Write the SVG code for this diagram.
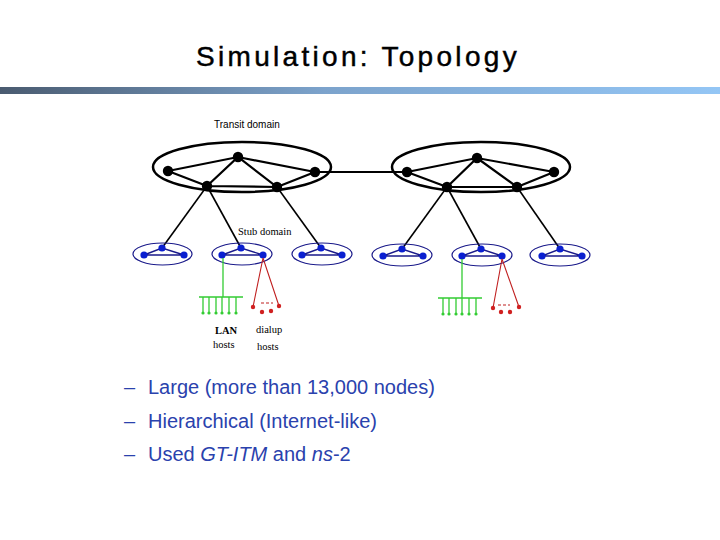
<svg xmlns="http://www.w3.org/2000/svg" width="720" height="540" viewBox="0 0 720 540">
<defs>
<linearGradient id="bar" x1="0" y1="0" x2="1" y2="0">
<stop offset="0" stop-color="#4a5b70"/>
<stop offset="0.45" stop-color="#7ca3cc"/>
<stop offset="1" stop-color="#94c6f5"/>
</linearGradient>
<style>
.title{font-family:"Liberation Sans",Arial,sans-serif;font-size:28px;letter-spacing:3.3px;fill:#000;stroke:#000;stroke-width:0.45}
.bul{font-family:"Liberation Sans",Arial,sans-serif;font-size:20px;fill:#2a42ad}
.lbl{font-family:"Liberation Serif","Times New Roman",serif;font-size:10.5px;fill:#000}
.tlbl{font-family:"Liberation Sans",Arial,sans-serif;font-size:10px;fill:#000}
.tell{fill:none;stroke:#000;stroke-width:2.5}
.tedge{stroke:#000;stroke-width:2.2;fill:none}
.tn{fill:#000}
.sell{fill:none;stroke:#1a1a8a;stroke-width:1.2}
.sedge{stroke:#1a1a8a;stroke-width:1.4;fill:none}
.sn{fill:#0a1fd0}
.down{stroke:#000;stroke-width:1.6}
.lan{stroke:#33cc33;stroke-width:1.3;fill:none}
.landot{fill:#33cc33}
.dial{stroke:#c02020;stroke-width:1.1;fill:none}
.dialdot{fill:#d02020}
</style>
</defs>
<rect width="720" height="540" fill="#fff"/>
<text class="title" x="358" y="66" text-anchor="middle">Simulation: Topology</text>
<rect x="0" y="87" width="720" height="7" fill="url(#bar)"/>

<g id="connectors">
<line class="tedge" x1="315" y1="172" x2="407" y2="172" stroke-width="3"/>
<line class="down" x1="207" y1="186" x2="162" y2="248"/>
<line class="down" x1="207" y1="186" x2="241" y2="248"/>
<line class="down" x1="277" y1="187" x2="321" y2="248"/>
<line class="down" x1="447" y1="187" x2="402" y2="249"/>
<line class="down" x1="447" y1="187" x2="481" y2="249"/>
<line class="down" x1="517" y1="187" x2="560" y2="249"/>
</g>

<g id="transit-left">
<ellipse class="tell" cx="242" cy="167" rx="89" ry="25"/>
<path class="tedge" d="M168 171L238 157L315 172M168 171L207 186L238 157L277 187L315 172M207 186L277 187"/>
<circle class="tn" cx="168" cy="171" r="5.2"/>
<circle class="tn" cx="238" cy="157" r="5.2"/>
<circle class="tn" cx="315" cy="172" r="5.2"/>
<circle class="tn" cx="207" cy="186" r="5.2"/>
<circle class="tn" cx="277" cy="187" r="5.2"/>
</g>
<g id="transit-right">
<ellipse class="tell" cx="481" cy="167" rx="89" ry="25"/>
<path class="tedge" d="M407 172L477 158L554 172M407 172L447 187L477 158L517 187L554 172M447 187L517 187"/>
<circle class="tn" cx="407" cy="172" r="5.2"/>
<circle class="tn" cx="477" cy="158" r="5.2"/>
<circle class="tn" cx="554" cy="172" r="5.2"/>
<circle class="tn" cx="447" cy="187" r="5.2"/>
<circle class="tn" cx="517" cy="187" r="5.2"/>
</g>
<text class="tlbl" x="214" y="128">Transit domain</text>
<text class="lbl" x="238" y="235">Stub domain</text>

<g id="stub1">
<ellipse class="sell" cx="162.5" cy="254" rx="29.5" ry="11"/>
<path class="sedge" d="M144 255L162 248L184 255ZM144 255H184"/>
<circle class="sn" cx="162" cy="248" r="3.6"/><circle class="sn" cx="144" cy="255" r="3.6"/><circle class="sn" cx="184" cy="255" r="3.6"/>
</g>
<g id="stub2">
<ellipse class="sell" cx="242" cy="254" rx="30" ry="11"/>
<path class="sedge" d="M222 255L241 248L263 255M222 255H263"/>
<circle class="sn" cx="241" cy="248" r="3.6"/><circle class="sn" cx="222" cy="255" r="3.6"/><circle class="sn" cx="263" cy="255" r="3.6"/>
</g>
<g id="stub3">
<ellipse class="sell" cx="322" cy="254" rx="30" ry="11"/>
<path class="sedge" d="M302 255L321 248L342 255M302 255H342"/>
<circle class="sn" cx="321" cy="248" r="3.6"/><circle class="sn" cx="302" cy="255" r="3.6"/><circle class="sn" cx="342" cy="255" r="3.6"/>
</g>
<g id="stub4">
<ellipse class="sell" cx="402" cy="255" rx="30" ry="11"/>
<path class="sedge" d="M383 256L402 249L423 256M383 256H423"/>
<circle class="sn" cx="402" cy="249" r="3.6"/><circle class="sn" cx="383" cy="256" r="3.6"/><circle class="sn" cx="423" cy="256" r="3.6"/>
</g>
<g id="stub5">
<ellipse class="sell" cx="482" cy="255" rx="30" ry="11"/>
<path class="sedge" d="M462 256L481 249L502 256M462 256H502"/>
<circle class="sn" cx="481" cy="249" r="3.6"/><circle class="sn" cx="462" cy="256" r="3.6"/><circle class="sn" cx="502" cy="256" r="3.6"/>
</g>
<g id="stub6">
<ellipse class="sell" cx="560" cy="255" rx="30" ry="11"/>
<path class="sedge" d="M542 256L560 249L582 256M542 256H582"/>
<circle class="sn" cx="560" cy="249" r="3.6"/><circle class="sn" cx="542" cy="256" r="3.6"/><circle class="sn" cx="582" cy="256" r="3.6"/>
</g>

<g id="lan-left">
<path class="lan" d="M223 258V297M199 297H243M203 297V312M209 297V312M216 297V312M222 297V312M229 297V312M236 297V312"/>
<g class="landot"><circle cx="203" cy="313" r="1.6"/><circle cx="209" cy="313" r="1.6"/><circle cx="216" cy="313" r="1.6"/><circle cx="222" cy="313" r="1.6"/><circle cx="229" cy="313" r="1.6"/><circle cx="236" cy="313" r="1.6"/></g>
</g>
<g id="dialup-left">
<path class="dial" d="M263 258L253 307M263 258L279 306M261 303H264M266 303H269M271 303H273"/>
<g class="dialdot"><circle cx="253" cy="307" r="2.2"/><circle cx="262" cy="312" r="2.2"/><circle cx="271" cy="311" r="2.2"/><circle cx="279" cy="306" r="2.2"/></g>
</g>
<g id="lan-right">
<path class="lan" d="M462 259V298M438 298H482M443 298V313M449 298V313M456 298V313M462 298V313M469 298V313M476 298V313"/>
<g class="landot"><circle cx="443" cy="314" r="1.6"/><circle cx="449" cy="314" r="1.6"/><circle cx="456" cy="314" r="1.6"/><circle cx="462" cy="314" r="1.6"/><circle cx="469" cy="314" r="1.6"/><circle cx="476" cy="314" r="1.6"/></g>
</g>
<g id="dialup-right">
<path class="dial" d="M502 259L493 308M502 259L519 307M498 305H501M503 305H506M508 305H510"/>
<g class="dialdot"><circle cx="493" cy="308" r="2.2"/><circle cx="501" cy="312" r="2.2"/><circle cx="510" cy="312" r="2.2"/><circle cx="519" cy="307" r="2.2"/></g>
</g>

<text class="lbl" x="215" y="334" font-weight="bold">LAN</text>
<text class="lbl" x="213" y="348">hosts</text>
<text class="lbl" x="256" y="333">dialup</text>
<text class="lbl" x="257" y="350">hosts</text>

<text class="bul" x="124" y="394">–</text><text class="bul" x="148" y="394">Large (more than 13,000 nodes)</text>
<text class="bul" x="124" y="428">–</text><text class="bul" x="148" y="428">Hierarchical (Internet-like)</text>
<text class="bul" x="124" y="461">–</text><text class="bul" x="148" y="461">Used <tspan font-style="italic">GT-ITM</tspan> and <tspan font-style="italic">ns</tspan>-2</text>
</svg>
